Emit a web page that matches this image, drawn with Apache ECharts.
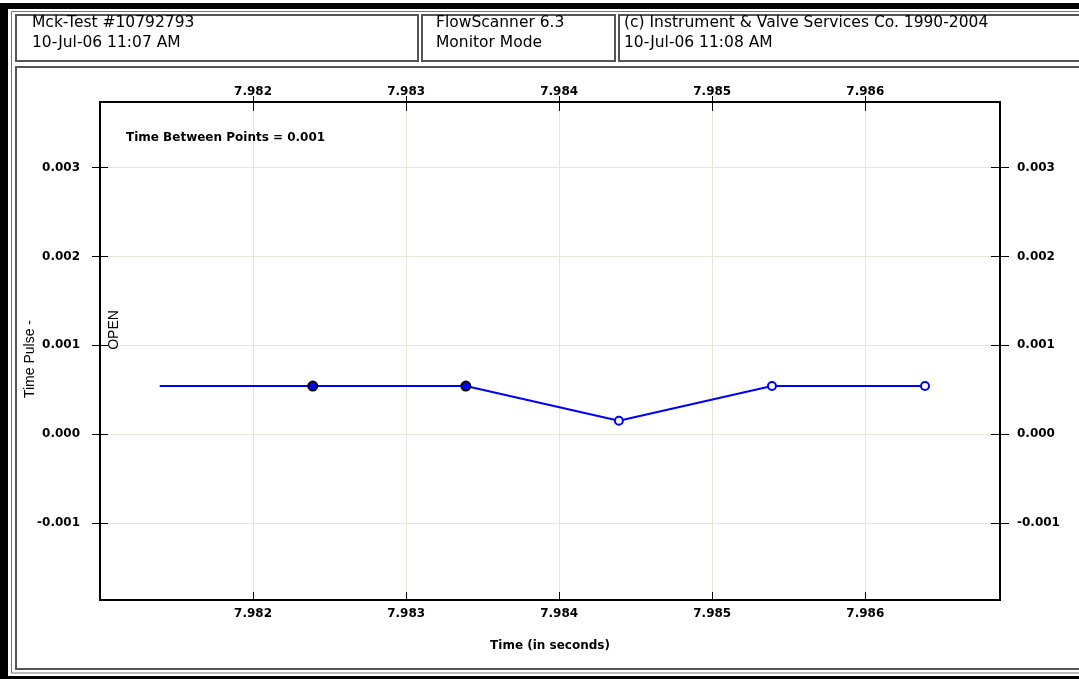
<!DOCTYPE html>
<html><head><meta charset="utf-8">
<script src="https://cdn.jsdelivr.net/npm/echarts@6/dist/echarts.min.js"></script>
<style>html,body{margin:0;padding:0;background:#fff}#c{width:1079px;height:679px}</style>
</head><body><div id="c"></div><script>
// ---- data ----
const timeValues  = [7.98139, 7.98239, 7.98339, 7.98439, 7.98539, 7.98639];
const pulseValues = [0.00054, 0.00054, 0.00054, 0.00015, 0.00054, 0.00054];
const xTicks = [7.982, 7.983, 7.984, 7.985, 7.986];
const yTicks = [-0.001, 0.000, 0.001, 0.002, 0.003];
const xRange = [7.981, 7.98688];
const yRange = [-0.00187, 0.00374];
const headerLeft  = ['Mck-Test #10792793', '10-Jul-06 11:07 AM'];
const headerMid   = ['FlowScanner 6.3', 'Monitor Mode'];
const headerRight = ['(c) Instrument & Valve Services Co. 1990-2004', '10-Jul-06 11:08 AM'];
const noteText = 'Time Between Points = 0.001';
const xName = 'Time (in seconds)';
const yName = 'Time Pulse -';
const yName2 = 'OPEN';

// ---- styles ----
const TICKF = {fontFamily:'DejaVu Sans', fontWeight:'bold', fontSize:12, color:'#000'};
const GRIDC = '#e8e4d6';
function markerStyle(i){
  if(i===0) return {symbol:'none'};
  if(i<3) return {symbol:'circle', symbolSize:9, itemStyle:{color:'#0000ff', borderColor:'#000', borderWidth:2}};
  return {symbol:'circle', symbolSize:8, itemStyle:{color:'#fff', borderColor:'#0000ff', borderWidth:2}};
}
const seriesData = timeValues.map((t,i)=>Object.assign({value:[t, pulseValues[i]]}, markerStyle(i)));
const fmt = v => Number(v).toFixed(3);

function xAx(pos, inside, len, labels, extra){
  return Object.assign({
    type:'value', position:pos, min:xRange[0], max:xRange[1],
    axisLine:{show:false, onZero:false},
    axisTick:{show:true, inside:inside, length:len, customValues:xTicks, lineStyle:{color:'#000', width:1}},
    axisLabel:Object.assign({show:labels, customValues:xTicks, formatter:fmt}, TICKF),
    splitLine:{show:false}
  }, extra||{});
}
function yAx(pos, inside, len, labels, extra){
  return Object.assign({
    type:'value', position:pos, min:yRange[0], max:yRange[1],
    axisLine:{show:false, onZero:false},
    axisTick:{show:true, inside:inside, length:len, customValues:yTicks, lineStyle:{color:'#000', width:1}},
    axisLabel:Object.assign({show:labels, customValues:yTicks, formatter:fmt}, TICKF),
    splitLine:{show:false}
  }, extra||{});
}

const xAxes = [
  xAx('bottom', true, 8, true, {
    splitLine:{show:true, lineStyle:{color:GRIDC, width:1}},
    name:xName, nameLocation:'middle', nameGap:40, nameMoveOverlap:false,
    nameTextStyle:{fontFamily:'DejaVu Sans', fontWeight:'bold', fontSize:12, color:'#000'}
  }),
  xAx('top', false, 6, true),
  xAx('top', true, 9, false)
];
xAxes[0].axisLabel.margin = 8;
xAxes[1].axisLabel.margin = 4;

const yAxes = [
  yAx('left', false, 8, true, {
    splitLine:{show:true, lineStyle:{color:GRIDC, width:1}},
    name:yName, nameLocation:'middle', nameGap:63, nameMoveOverlap:false,
    nameTextStyle:{fontFamily:'Liberation Sans', fontSize:14, color:'#000', padding:[0,16,0,0]}
  }),
  yAx('left', true, 8, false),
  yAx('right', false, 9, true),
  yAx('right', true, 9, false)
];
yAxes[0].axisLabel.margin = 20;
yAxes[2].axisLabel.margin = 17;

function headerText(x, lines){
  return lines.map((s,k)=>({type:'text', x:x, y:23+20*k, z:5,
    style:{text:s, fontFamily:'DejaVu Sans', fontSize:15.5, fill:'#000', align:'left', verticalAlign:'middle'}}));
}
const BOX = '#555';
const graphics = [
  {type:'rect', z:-20, silent:true, shape:{x:0,y:3,width:1200,height:700}, style:{fill:'#000'}},
  {type:'rect', z:-19, silent:true, shape:{x:8,y:9,width:1200,height:667}, style:{fill:'#fff'}},
  {type:'rect', z:-18, silent:true, shape:{x:11.5,y:11.5,width:1200,height:661.5}, style:{fill:null, stroke:'#777', lineWidth:1}},
  {type:'rect', z:-18, silent:true, shape:{x:16,y:15,width:402,height:46}, style:{fill:null, stroke:BOX, lineWidth:2}},
  {type:'rect', z:-18, silent:true, shape:{x:422,y:15,width:193,height:46}, style:{fill:null, stroke:BOX, lineWidth:2}},
  {type:'rect', z:-18, silent:true, shape:{x:619,y:15,width:800,height:46}, style:{fill:null, stroke:BOX, lineWidth:2}},
  {type:'rect', z:-18, silent:true, shape:{x:16,y:67,width:1200,height:602}, style:{fill:null, stroke:BOX, lineWidth:2}},
  {type:'text', x:126, y:138, z:5, style:{text:noteText, fontFamily:'DejaVu Sans', fontWeight:'bold', fontSize:12, fill:'#000', align:'left', verticalAlign:'middle'}},
  {type:'text', x:114, y:330, z:5, rotation:Math.PI/2, style:{text:yName2, fontFamily:'Liberation Sans', fontSize:14, fill:'#000', align:'center', verticalAlign:'middle'}}
].concat(headerText(32, headerLeft), headerText(436, headerMid), headerText(624, headerRight));

const chart = echarts.init(document.getElementById('c'), null, {renderer:'canvas'});
chart.setOption({
  animation:false,
  backgroundColor:'transparent',
  grid:{left:100, right:79, top:102, bottom:79, show:true, borderColor:'#000', borderWidth:2, backgroundColor:'transparent', containLabel:false, outerBoundsMode:'none'},
  xAxis:xAxes,
  yAxis:yAxes,
  graphic:graphics,
  series:[{
    type:'line', xAxisIndex:0, yAxisIndex:0, data:seriesData,
    lineStyle:{color:'#0000ff', width:2},
    itemStyle:{color:'#0000ff'},
    showSymbol:true, z:3
  }]
});
</script></body></html>
